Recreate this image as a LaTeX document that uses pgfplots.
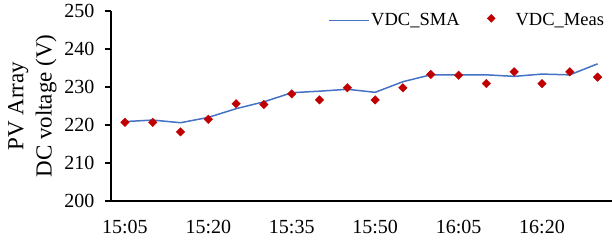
\documentclass[border=0pt]{standalone}
\usepackage{pgfplots}
\pgfplotsset{compat=1.18}
\usepackage{fontspec}
\setmainfont{Liberation Serif}
\definecolor{smablue}{RGB}{68,114,196}
\definecolor{measred}{RGB}{192,0,0}
\begin{document}
\begin{tikzpicture}
\begin{axis}[
  scale only axis,
  width=500.5pt, height=190pt,
  xmin=-0.5, xmax=17.5,
  ymin=200, ymax=250,
  axis x line*=bottom, axis y line*=left,
  axis line style={line width=1.1pt, black},
  every tick/.style={black, line width=1.1pt},
  tick align=outside,
  ytick={200,210,...,250},
  major tick length=6pt,
  xtick={0,3,6,9,12,15},
  xticklabels={15:05,15:20,15:35,15:50,16:05,16:20},
  x tick style={draw=none},
  extra x ticks={-0.5,2.5,5.5,8.5,11.5,14.5},
  extra x tick labels={},
  extra x tick style={tick style={draw=black, line width=1.1pt}, major tick length=6pt},
  /pgf/number format/assume math mode=true,
  ticklabel style={font=\fontsize{20}{22}\selectfont, text=black},
  yticklabel style={xshift=-7pt},
  xticklabel style={yshift=-10pt},
  ylabel={PV Array\\DC voltage (V)},
  ylabel style={font=\fontsize{23}{28.3}\selectfont, align=center, yshift=1pt},
  legend columns=2,
  legend cell align=left,
  legend style={draw=none, fill=none, font=\fontsize{18.5}{20}\selectfont,
    at={(rel axis cs:0.4276,1.008)}, anchor=north west,
    nodes={inner xsep=1.5pt},
    /tikz/every even column/.append style={column sep=6pt}},
]
\addplot[smablue, line width=1.5pt, no marks,
  legend image code/.code={\draw[smablue, line width=1.5pt] (0pt,0pt) -- (40pt,0pt);}]
  coordinates {
  (0,220.9) (1,221.3) (2,220.6) (3,222.0) (4,224.3) (5,226.1) (6,228.5) (7,228.9) (8,229.4)
  (9,228.6) (10,231.4) (11,233.2) (12,233.2) (13,233.2) (14,232.8) (15,233.4) (16,233.2) (17,236.1)
  };
\addlegendentry{VDC\_SMA}
\addplot[only marks, mark=square*, mark size=3.0pt,
  mark options={rotate=45, fill=measred, draw=measred},
  legend image code/.code={\path[draw=none] (0pt,0pt) -- (47pt,0pt);
     \node[fill=measred, draw=measred, rotate=45, minimum size=5.6pt, inner sep=0pt] at (22pt,0pt) {};}]
  coordinates {
  (0,220.7) (1,220.7) (2,218.2) (3,221.5) (4,225.6) (5,225.4) (6,228.2) (7,226.6) (8,229.8)
  (9,226.6) (10,229.8) (11,233.3) (12,233.1) (13,230.9) (14,234.0) (15,230.9) (16,234.0) (17,232.6)
  };
\addlegendentry{VDC\_Meas}
\coordinate (O) at (rel axis cs:0,0);
\end{axis}
\pgfresetboundingbox
\path[use as bounding box] ([xshift=-111pt,yshift=-43pt]O) rectangle ([xshift=501pt,yshift=201pt]O);
\end{tikzpicture}
\end{document}
